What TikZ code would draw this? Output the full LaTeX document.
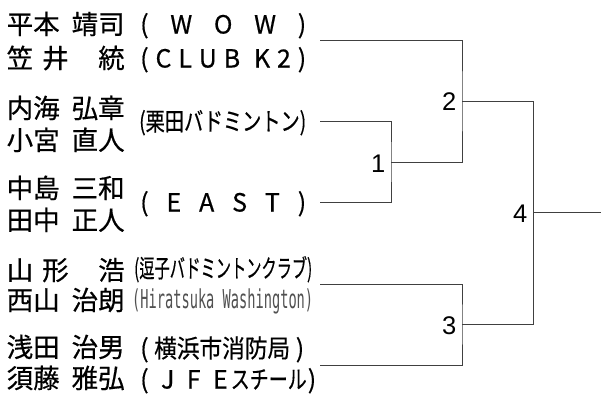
\documentclass[tikz,border=0pt]{standalone}
\usepackage{fontspec}
\setmainfont{Noto Sans CJK JP}[FakeBold=0.5]
\newfontfamily\numfont{Liberation Sans}
\newfontfamily\monofont{DejaVu Sans Mono}
\definecolor{linegray}{HTML}{404040}
\definecolor{thingray}{HTML}{505050}
\begin{document}
\begin{tikzpicture}[x=1pt,y=-1pt,
  nm/.style={anchor=base west,inner sep=0pt,font=\fontsize{26.5}{26.5}\selectfont},
  tm/.style={anchor=base west,inner sep=0pt,font=\fontsize{25}{25}\selectfont},
  num/.style={anchor=base east,inner sep=0pt,font=\numfont\fontsize{25.5}{25.5}\selectfont},
  br/.style={line width=1pt,draw=linegray}]
\useasboundingbox (0,0) rectangle (601,394);
% player names
\node[nm] (n1) at (6.5,34) {\makebox[118pt][s]{平本\hfill 靖司}};
\node[nm] (n2) at (6.5,68) {\makebox[118pt][s]{笠\hspace{9pt}井\hfill 統}};
\node[nm] (n3) at (6.5,118) {\makebox[118pt][s]{内海\hfill 弘章}};
\node[nm] (n4) at (6.5,150) {\makebox[118pt][s]{小宮\hfill 直人}};
\node[nm] (n5) at (6.5,198) {\makebox[118pt][s]{中島\hfill 三和}};
\node[nm] (n6) at (6.5,230) {\makebox[118pt][s]{田中\hfill 正人}};
\node[nm] (n7) at (6.5,280) {\makebox[118pt][s]{山\hspace{9pt}形\hfill 浩}};
\node[nm] (n8) at (6.5,310) {\makebox[118pt][s]{西山\hfill 治朗}};
\node[nm] (n9) at (6.5,357) {\makebox[118pt][s]{浅田\hfill 治男}};
\node[nm] (n10) at (6.5,388) {\makebox[118pt][s]{須藤\hfill 雅弘}};
% clubs
\node[tm] (c1) at (140,33.5) {\makebox[166pt][s]{(\hfill W\hfill O\hfill W\hfill )}};
\node[tm] (c2) at (140,67.5) {\makebox[166pt][s]{(\hfill C\hfill L\hfill U\hfill B\hfill\hfill K\hfill 2\hfill )}};
\node[tm] (c3) at (139,130.5) {\resizebox{167pt}{\height}{(栗田バドミントン)}};
\node[tm] (c4) at (140,211.5) {\makebox[166pt][s]{(\hfill E\hfill A\hfill S\hfill T\hfill )}};
\node[tm] (c5) at (134,277.5) {\resizebox{178pt}{\height}{(逗子バドミントンクラブ)}};
\node[tm,font=\monofont\fontsize{26}{26}\selectfont,text=thingray] (c6) at (132,308) {\resizebox{181pt}{\height}{(Hiratsuka Washington)}};
\node[tm] (c7) at (140,357.5) {\makebox[164pt][s]{(\hfill\resizebox{136pt}{\height}{横浜市消防局}\hfill )}};
\node[tm] (c8) at (140,388.5) {\makebox[176pt][s]{(\hfill J\hfill F\hfill E\hspace{3pt}\resizebox{76pt}{\height}{スチール}\hspace{1pt})}};
% bracket ends and junctions
\coordinate (e1) at (320,40);
\coordinate (e2) at (320,121);
\coordinate (e3) at (320,202);
\coordinate (e4) at (320,284);
\coordinate (e5) at (320,365);
\coordinate (j1) at (391,162);
\coordinate (j2) at (462,101);
\coordinate (j3) at (462,324);
\coordinate (j4) at (533,212);
\coordinate (fin) at (601,212);
\draw[br] (e1) -| (j2) |- (j1);
\draw[br] (e2) -| (j1) |- (e3);
\draw[br] (j2) -| (j4) |- (j3);
\draw[br] (e4) -| (j3) |- (e5);
\draw[br] (j4) -- (fin);
% match numbers
\node[num] (m1) at (385.5,172) {1};
\node[num] (m2) at (456.5,110.5) {2};
\node[num] (m3) at (456.5,334) {3};
\node[num] (m4) at (527.5,222) {4};
\end{tikzpicture}
\end{document}
